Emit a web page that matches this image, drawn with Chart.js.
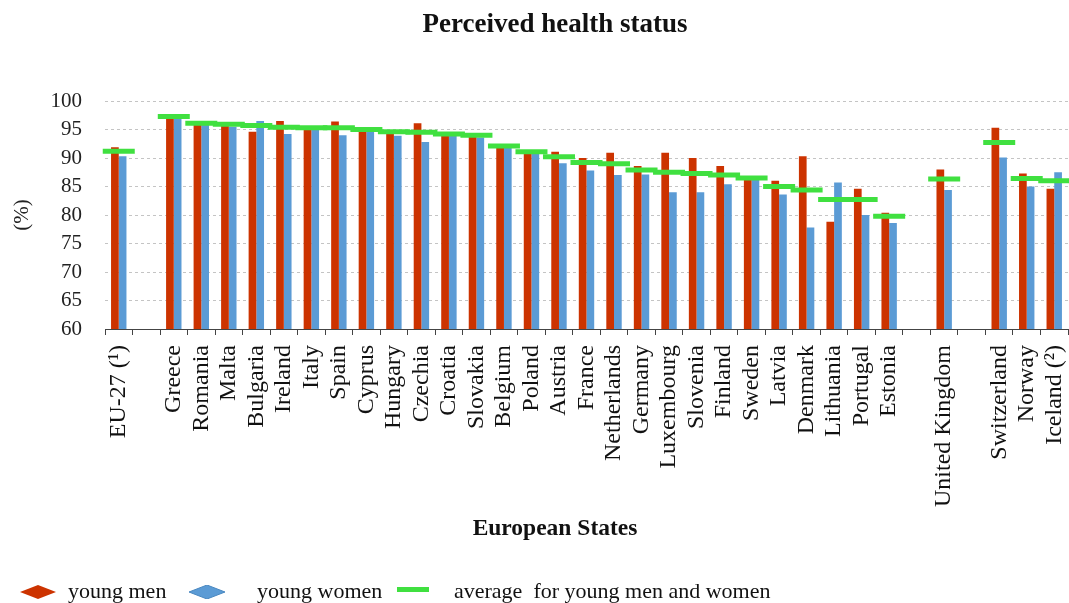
<!DOCTYPE html>
<html>
<head>
<meta charset="utf-8">
<script src="https://cdn.jsdelivr.net/npm/chart.js@4/dist/chart.umd.min.js"></script>
<style>
  html, body { margin: 0; padding: 0; background: #fff; }
  #wrap { position: relative; width: 1069px; height: 603px; overflow: hidden; }
  #chart { position: absolute; left: 0; top: 0; }
  .heading { position: absolute; left: 355px; width: 400px; text-align: center;
    font-family: "Liberation Serif", serif; font-weight: bold; color: #111; white-space: pre; }
  .legend-text { position: absolute; top: 578px; height: 26px; line-height: 26px;
    font-family: "Liberation Serif", serif; font-size: 22px; color: #111; white-space: pre; }
  .legend-mark { position: absolute; }
</style>
</head>
<body>
<div id="wrap">
  <canvas id="chart" width="1069" height="603"></canvas>
  <div class="heading" style="top:8px;height:30px;line-height:30px;font-size:27px">Perceived health status</div>
  <div class="heading" style="top:513px;height:28px;line-height:28px;font-size:23.5px">European States</div>
  <svg class="legend-mark" style="left:20px;top:585px" width="36" height="14">
    <polygon points="0,7 18,0 36,7 18,14" fill="#cc3300"/>
  </svg>
  <span class="legend-text" style="left:68px">young men</span>
  <svg class="legend-mark" style="left:189px;top:585px" width="36" height="14">
    <polygon points="0,7 18,0 36,7 18,14" fill="#5b9bd5" stroke="#4a88c0" stroke-width="1"/>
  </svg>
  <span class="legend-text" style="left:257px">young women</span>
  <svg class="legend-mark" style="left:397px;top:587px" width="32" height="6">
    <rect x="0" y="0" width="32" height="5" fill="#40e040"/>
  </svg>
  <span class="legend-text" style="left:454px">average  for young men and women</span>
</div>
<script>
// Share of young people rating their health as good or very good, by state.
// Empty labels are spacer slots that separate the country groups.
const categories = [
  'EU-27 (¹)', '',
  'Greece', 'Romania', 'Malta', 'Bulgaria', 'Ireland', 'Italy', 'Spain', 'Cyprus',
  'Hungary', 'Czechia', 'Croatia', 'Slovakia', 'Belgium', 'Poland', 'Austria',
  'France', 'Netherlands', 'Germany', 'Luxembourg', 'Slovenia', 'Finland',
  'Sweden', 'Latvia', 'Denmark', 'Lithuania', 'Portugal', 'Estonia', '',
  'United Kingdom', '',
  'Switzerland', 'Norway', 'Iceland (²)'
];

const youngMen = [
  91.9, null,
  97.3, 96.0, 95.8, 94.6, 96.5, 95.4, 96.4, 95.0,
  94.2, 96.1, 94.3, 93.8, 92.0, 91.0, 91.1,
  90.0, 90.9, 88.6, 90.9, 90.0, 88.6,
  86.4, 86.0, 90.3, 78.8, 84.6, 80.4, null,
  88.0, null,
  95.3, 87.3, 84.6
];

const youngWomen = [
  90.3, null,
  97.2, 95.8, 95.5, 96.5, 94.2, 95.3, 94.0, 94.6,
  93.9, 92.8, 94.1, 93.6, 91.8, 90.8, 89.1,
  87.8, 87.0, 87.1, 84.0, 84.0, 85.4,
  86.3, 83.6, 77.8, 85.7, 80.0, 78.6, null,
  84.4, null,
  90.1, 85.0, 87.5
];

const average = [
  91.2, null,
  97.3, 96.1, 95.9, 95.7, 95.4, 95.3, 95.3, 95.0,
  94.6, 94.5, 94.2, 94.0, 92.1, 91.1, 90.2,
  89.2, 89.0, 87.9, 87.5, 87.3, 87.0,
  86.5, 85.0, 84.4, 82.7, 82.7, 79.8, null,
  86.3, null,
  92.7, 86.4, 86.0
];

const yTicks = { min: 60, max: 100, step: 5 };

const serif = '"Liberation Serif", "Times New Roman", serif';

new Chart(document.getElementById('chart'), {
  type: 'bar',
  data: {
    labels: categories,
    datasets: [
      {
        type: 'line',
        label: 'average  for young men and women',
        data: average,
        showLine: false,
        clip: false,
        pointStyle: 'line',
        pointRadius: 16,
        pointHoverRadius: 16,
        pointBorderWidth: 5,
        pointHoverBorderWidth: 5,
        borderColor: '#40e040',
        backgroundColor: '#40e040',
        order: 0
      },
      {
        label: 'young men',
        data: youngMen,
        backgroundColor: '#cc3300',
        order: 1
      },
      {
        label: 'young women',
        data: youngWomen,
        backgroundColor: '#5b9bd5',
        order: 1
      }
    ]
  },
  options: {
    responsive: false,
    animation: false,
    events: [],
    datasets: {
      bar: { categoryPercentage: 0.56, barPercentage: 1.0 }
    },
    layout: { autoPadding: false, padding: { top: 101, left: 0, right: 1, bottom: 61 } },
    plugins: {
      legend: { display: false },
      tooltip: { enabled: false },
      title: { display: false }
    },
    scales: {
      x: {
        afterFit: (s) => {
          s.height = 213;
          s.paddingLeft = 0;
          s.paddingRight = 0;
        },
        grid: {
          display: true,
          offset: true,
          drawOnChartArea: false,
          drawTicks: true,
          tickLength: 6,
          color: '#444'
        },
        border: { display: true, color: '#444', width: 1 },
        ticks: {
          autoSkip: false,
          maxRotation: 90,
          minRotation: 90,
          padding: 10,
          color: '#111',
          font: { family: serif, size: 24 }
        }
      },
      y: {
        min: yTicks.min,
        max: yTicks.max,
        afterFit: (s) => { s.width = 105; },
        ticks: {
          stepSize: yTicks.step,
          padding: 23,
          color: '#222',
          font: { family: serif, size: 21 }
        },
        grid: { color: '#c4c4c4', drawTicks: false, lineWidth: 1 },
        border: { display: false, dash: [3, 3] },
        title: {
          display: true,
          text: '(%)',
          color: '#222',
          padding: { top: 10, bottom: 0 },
          font: { family: serif, size: 21, lineHeight: 1.2 }
        }
      }
    }
  }
});
</script>
</body>
</html>
